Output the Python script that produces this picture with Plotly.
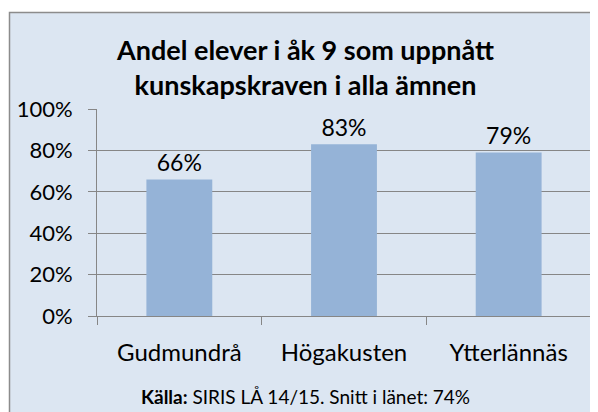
import plotly.graph_objects as go

categories = ["Gudmundrå", "Högakusten", "Ytterlännäs"]
values = [0.66, 0.83, 0.79]
value_labels = ["66%", "83%", "79%"]
y_ticks = [0, 0.2, 0.4, 0.6, 0.8, 1.0]
y_tick_labels = ["0%", "20%", "40%", "60%", "80%", "100%"]
title_lines = ["Andel elever i åk 9 som uppnått", "kunskapskraven i alla ämnen"]
source_bold = "Källa:"
source_text = " SIRIS LÅ 14/15. Snitt i länet: 74%"

FONT = "Lato"
OFF = 8  # page body margin
W, H = 598 - OFF, 412 - OFF
L, R, T, B = 97 - OFF, 591 - OFF, 109 - OFF, 316 - OFF
pw, ph = R - L, B - T

def px(x):
    return (x - OFF - L) / pw

def py(y):
    return (B - (y - OFF)) / ph

fig = go.Figure()
fig.add_trace(go.Bar(
    x=categories, y=values, text=value_labels, textposition="outside",
    textfont=dict(family=FONT, size=23, color="#000000"),
    marker=dict(color="#95b3d7", line=dict(width=0)),
    width=0.4, cliponaxis=False, hoverinfo="skip",
))

fig.update_layout(
    width=W, height=H,
    margin=dict(l=L, r=W - R, t=T, b=H - B, pad=0),
    paper_bgcolor="#ffffff", plot_bgcolor="#ffffff",
    showlegend=False,
    font=dict(family=FONT, color="#000000"),
    xaxis=dict(
        showgrid=False, showline=True, linecolor="#868686", linewidth=1,
        ticks="outside", tickson="boundaries", ticklen=8, tickcolor="#868686",
        tickfont=dict(family=FONT, size=24, color="#000000"),
        ticklabelstandoff=15,
    ),
    yaxis=dict(
        range=[0, 1], tickvals=y_ticks, ticktext=y_tick_labels,
        showgrid=True, gridcolor="#868686", gridwidth=1,
        showline=True, linecolor="#868686", linewidth=1,
        ticks="outside", ticklen=8, tickcolor="#868686",
        tickfont=dict(family=FONT, size=22, color="#000000"),
        ticklabelstandoff=11, zeroline=False,
    ),
    shapes=[dict(
        type="rect", xref="paper", yref="paper", layer="below",
        x0=px(9.5), x1=px(596.5), y0=py(440), y1=py(12.5),
        fillcolor="#dce6f2", line=dict(color="#8c8c8c", width=1.5),
    )],
    annotations=[
        dict(text="<b>" + title_lines[0] + "</b><br><b>" + title_lines[1] + "</b>",
             xref="paper", yref="paper", x=px(305), y=py(67), xanchor="center", yanchor="middle",
             showarrow=False, font=dict(family=FONT, size=27, color="#000000")),
        dict(text="<b>" + source_bold + "</b>" + source_text,
             xref="paper", yref="paper", x=px(305), y=py(396), xanchor="center", yanchor="middle",
             showarrow=False, font=dict(family=FONT, size=19, color="#000000")),
    ],
)

fig.write_html("out.html")
